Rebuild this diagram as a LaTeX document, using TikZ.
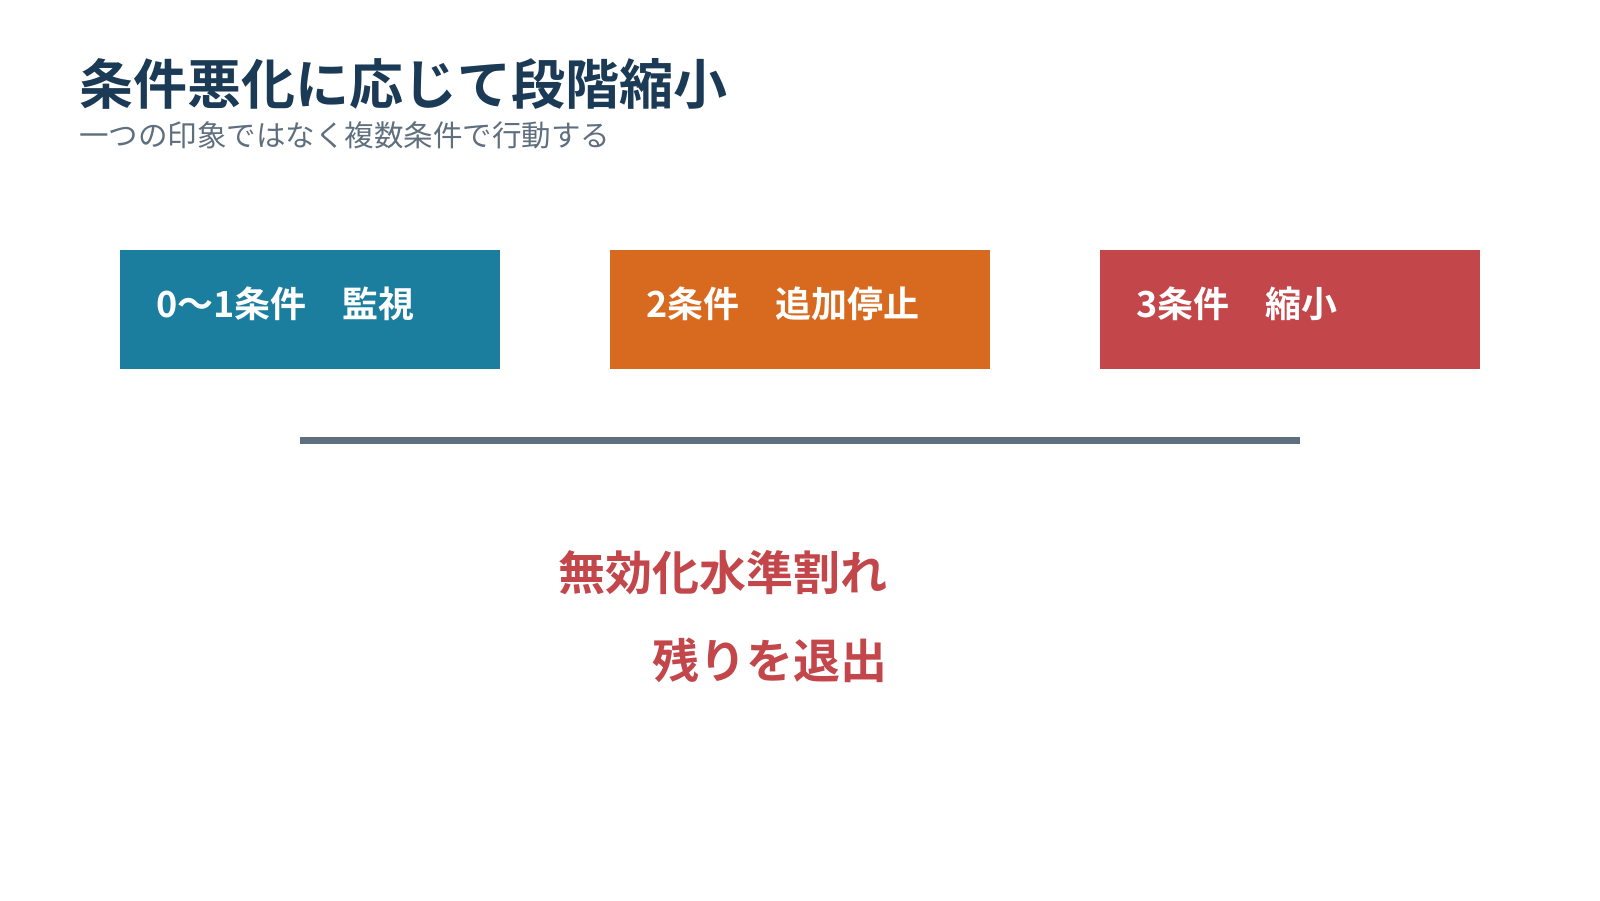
\documentclass[tikz,border=0pt]{standalone}
\usepackage{fontspec}
\setmainfont{Noto Sans CJK JP}[BoldFont={Noto Sans CJK JP Bold}]
\definecolor{titlec}{HTML}{1A3A55}
\definecolor{subc}{HTML}{5F6F7E}
\definecolor{tealc}{HTML}{1B7E9E}
\definecolor{orangec}{HTML}{D86A20}
\definecolor{redc}{HTML}{C3474A}
\definecolor{barc}{HTML}{5E707D}
\tikzset{
  stagebox/.style={draw=none, fill=#1, minimum width=380pt, minimum height=119pt, inner sep=0pt, anchor=north west},
  stagetext/.style={text=white, font=\fontsize{36pt}{42pt}\selectfont\bfseries, anchor=west, inner sep=0pt},
  redtext/.style={text=redc, font=\fontsize{47pt}{53pt}\selectfont\bfseries, anchor=east, inner sep=0pt},
}
\begin{document}
\begin{tikzpicture}[x=1pt,y=-1pt]
\useasboundingbox[fill=white] (0,0) rectangle (1600,900);
\node[anchor=west, inner sep=0pt, text=titlec, font=\fontsize{54pt}{60pt}\selectfont\bfseries] (title) at (79,84) {条件悪化に応じて段階縮小};
\node[anchor=west, inner sep=0pt, text=subc, font=\fontsize{29.5pt}{34pt}\selectfont] (sub) at (79,135) {一つの印象ではなく複数条件で行動する};
\node[stagebox=tealc] (b1) at (120,250) {};
\node[stagebox=orangec] (b2) at (610,250) {};
\node[stagebox=redc] (b3) at (1100,250) {};
\node[stagetext] (t1) at (156,304) {0～1条件　監視};
\node[stagetext] (t2) at (646,304) {2条件　追加停止};
\node[stagetext] (t3) at (1136,304) {3条件　縮小};
\coordinate (barL) at (300,440);
\coordinate (barR) at (1300,440);
\draw[barc, line width=7pt] (barL) -- (barR);
\node[redtext] (r1) at (888,573) {無効化水準割れ};
\node[redtext] (r2) at (888,660) {残りを退出};
\end{tikzpicture}
\end{document}
